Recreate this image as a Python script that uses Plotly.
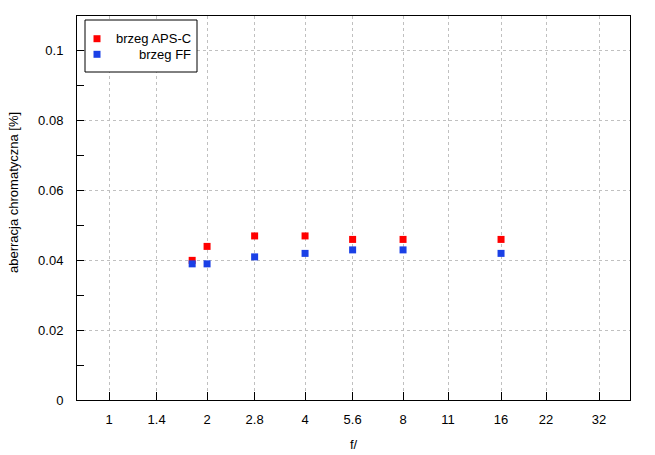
import numpy as np
import plotly.graph_objects as go

# f-stops (x) and chromatic aberration values (%)
f_stops = [1.8, 2, 2.8, 4, 5.6, 8, 16]
aps_c = [0.040, 0.044, 0.047, 0.047, 0.046, 0.046, 0.046]
ff = [0.039, 0.039, 0.041, 0.042, 0.043, 0.043, 0.042]

x_tick_vals = [1, 1.4, 2, 2.8, 4, 5.6, 8, 11, 16, 22, 32]
x_tick_text = ["1", "1.4", "2", "2.8", "4", "5.6", "8", "11", "16", "22", "32"]

series_names = ["brzeg APS-C", "brzeg FF"]
series_colors = ["#ff0000", "#1a40e6"]

W, H = 655, 455
ML, MR, MT, MB = 77, 25, 16, 55
PW, PH = W - ML - MR, H - MT - MB


def px_x(p):
    return (p - ML) / PW


def px_y(p):
    return (H - MB - p) / PH


fig = go.Figure()
for name, vals, col in zip(series_names, [aps_c, ff], series_colors):
    fig.add_trace(go.Scatter(
        x=f_stops, y=vals, mode="markers", name=name, showlegend=False,
        marker=dict(symbol="square", size=7, color=col, line=dict(width=0)),
    ))

font = dict(family="Liberation Sans, Arial, sans-serif", size=13, color="#000000")

# hand-drawn legend box (right-aligned labels like the original)
shapes = [dict(type="rect", xref="paper", yref="paper",
               x0=px_x(85), x1=px_x(197), y0=px_y(72), y1=px_y(20),
               line=dict(color="black", width=1), fillcolor="white", layer="above")]
annotations = []
legend_rows = [38.7, 54.3]
for name, col, yy in zip(series_names, series_colors, legend_rows):
    shapes.append(dict(type="rect", xref="paper", yref="paper",
                       x0=px_x(93.5), x1=px_x(100.5), y0=px_y(yy + 3.5), y1=px_y(yy - 3.5),
                       line=dict(width=0), fillcolor=col, layer="above"))
    annotations.append(dict(xref="paper", yref="paper", x=px_x(193), y=px_y(yy),
                            xanchor="right", yanchor="middle", text=name,
                            showarrow=False, font=font))

# y-axis title placed like the original (slightly above the plot centre)
annotations.append(dict(xref="paper", yref="paper", x=px_x(13), y=px_y(193),
                        xanchor="center", yanchor="middle", textangle=-90,
                        text="aberracja chromatyczna [%]", showarrow=False, font=font))

fig.update_layout(
    width=W, height=H,
    margin=dict(l=ML, r=MR, t=MT, b=MB, autoexpand=False),
    paper_bgcolor="white", plot_bgcolor="white",
    font=font,
    showlegend=False,
    shapes=shapes,
    annotations=annotations,
)

fig.update_xaxes(
    type="log",
    range=[np.log10(0.797), 1.6003],
    tickmode="array", tickvals=x_tick_vals, ticktext=x_tick_text,
    ticks="inside", ticklen=8, tickcolor="black",
    showline=True, linecolor="black", linewidth=1, mirror=True,
    showgrid=True, gridcolor="#c0c0c0", griddash="3px,3px", gridwidth=1,
    zeroline=False, automargin=False,
    title=dict(text="f/", standoff=14, font=font),
    ticklabelstandoff=7,
)
fig.update_yaxes(
    range=[0, 0.11],
    tickmode="linear", tick0=0, dtick=0.02,
    ticks="inside", ticklen=7, tickcolor="black",
    minor=dict(ticks="inside", dtick=0.01, tick0=0, ticklen=7, tickcolor="black", showgrid=False),
    showline=True, linecolor="black", linewidth=1, mirror=True,
    showgrid=True, gridcolor="#c0c0c0", griddash="3px,3px", gridwidth=1,
    zeroline=False, automargin=False,
    ticklabelstandoff=10,
)

fig.write_html("out.html")
